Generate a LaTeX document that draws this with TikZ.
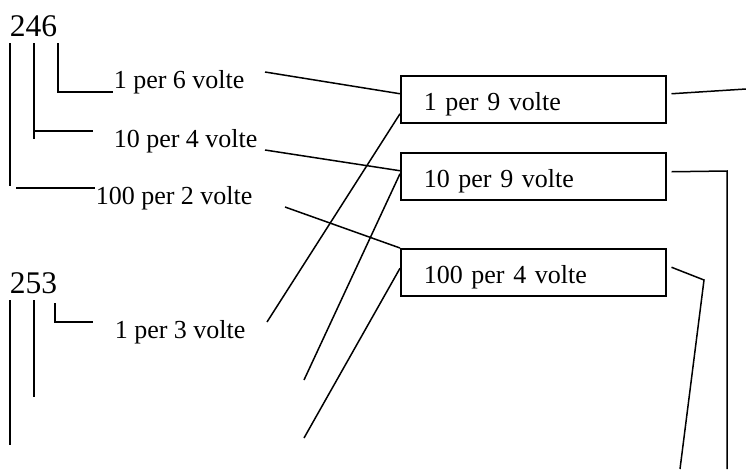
\documentclass[tikz,border=0pt]{standalone}
\usepackage{fontspec}
\setmainfont{Liberation Serif}
\begin{document}
\begin{tikzpicture}[x=1pt,y=-1pt,line width=1.5pt,
  lbl/.style={anchor=base west,inner sep=0pt,font=\fontsize{26}{30}\selectfont},
  num/.style={anchor=base west,inner sep=0pt,font=\fontsize{31.5}{34}\selectfont},
  vbox/.style={draw,anchor=north west,minimum height=47pt,text width=219pt,inner xsep=23pt,inner ysep=0pt,
    align=left,text height=23pt,text depth=0pt,font=\fontsize{26}{30}\selectfont}]
\useasboundingbox (0,0) rectangle (746,469);
% numbers
\node[num] (n246) at (9,36) {246};
\node[num] (n253) at (9,293) {253};
% labels
\node[lbl] (t1) at (113,88) {1 per 6 volte};
\node[lbl] (t2) at (113,147) {10 per 4 volte};
\node[lbl] (t3) at (95,204) {100 per 2 volte};
\node[lbl] (t4) at (114,338) {1 per 3 volte};
% boxes
\node[vbox] (b1) at (400,75) {1 per 9 volte};
\node[vbox] (b2) at (400,152) {10 per 9 volte};
\node[vbox] (b3) at (400,248) {100 per 4 volte};
% brackets of 246
\draw (10,43) -- (10,186);
\draw (16,188) -- (t3.west |- 0,188);
\draw (34,43) -- (34,139);
\draw (34,131) -- (93,131);
\draw (58,43) -- (58,92) -- (t1.west |- 0,92);
% brackets of 253
\draw (10,300) -- (10,445);
\draw (34,300) -- (34,397);
\draw (55,303) -- (55,322) -- (93,322);
% free ends
\coordinate (f1) at (265,72);
\coordinate (f2) at (265,150);
\coordinate (f3) at (285,207);
\coordinate (f4) at (267,322);
\coordinate (f5) at (304,380);
\coordinate (f6) at (304,438);
\coordinate (g1) at (746,89);
\coordinate (g2a) at (727,171);
\coordinate (g2) at (727,469);
\coordinate (g3a) at (704,280);
\coordinate (g3) at (680,469);
% connectors into boxes
\draw (f1) -- ([yshift=5.5pt]b1.west);
\draw (f2) -- ([yshift=5.5pt]b2.west);
\draw (f3) -- (b3.north west);
\draw (f4) -- ([yshift=-14.5pt]b1.west);
\draw (f5) -- ([yshift=2.5pt]b2.west);
\draw (f6) -- ([yshift=4pt]b3.west);
% connectors out of boxes
\draw ([xshift=5pt,yshift=5.5pt]b1.east) -- (g1);
\draw ([xshift=5pt,yshift=4.5pt]b2.east) -- (g2a) -- (g2);
\draw ([xshift=5pt,yshift=5pt]b3.east) -- (g3a) -- (g3);
\end{tikzpicture}
\end{document}
